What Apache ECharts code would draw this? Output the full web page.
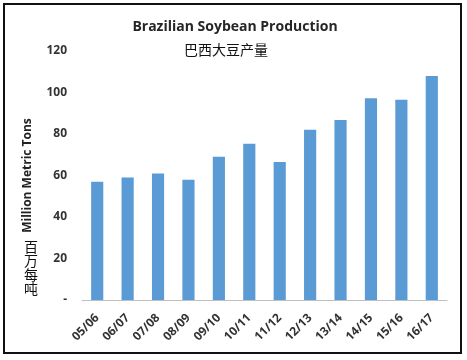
<!DOCTYPE html>
<html><head><meta charset="utf-8">
<script src="https://cdn.jsdelivr.net/npm/echarts@6/dist/echarts.min.js"></script>
<style>html,body{margin:0;padding:0;background:#fff;}#c{width:467px;height:360px;}</style>
</head><body><div id="c"></div>
<script>
var categories = ['05/06','06/07','07/08','08/09','09/10','10/11','11/12','12/13','13/14','14/15','15/16','16/17'];
var production = [57, 59, 61, 58, 69, 75.3, 66.5, 82, 86.7, 97.2, 96.5, 108];
var yTicks = [0, 20, 40, 60, 80, 100, 120];
var unitCn = ['百', '万', '每', '吨'];

var chart = echarts.init(document.getElementById('c'));
var titles = [
  {text: 'Brazilian Soybean Production', left: 230, top: 15, textAlign: 'center',
   textStyle: {fontFamily: 'Open Sans', fontWeight: 'bold', fontSize: 14, color: '#262626'}},
  {text: '巴西大豆产量', left: 221, top: 38, textAlign: 'center',
   textStyle: {fontFamily: 'Noto Sans CJK SC', fontWeight: 'normal', fontSize: 14, color: '#111'}}
];
unitCn.forEach(function (ch, i) {
  titles.push({text: ch, left: 24, top: 240 + i * 14, padding: 0,
    textStyle: {fontFamily: 'Noto Sans CJK SC', fontWeight: 'normal', fontSize: 14, color: '#111', lineHeight: 14}});
});

chart.setOption({
  animation: false,
  backgroundColor: '#fff',
  title: titles,
  graphic: [
    {type: 'rect', shape: {x: 4, y: 4, width: 457, height: 349},
     style: {fill: 'none', stroke: '#111', lineWidth: 2}, silent: true}
  ],
  grid: {left: 82, right: 20, top: 51, bottom: 60},
  xAxis: {
    type: 'category', data: categories,
    axisLine: {lineStyle: {color: '#bfbfbf', width: 1}},
    axisTick: {show: false},
    axisLabel: {rotate: 45, interval: 0, margin: 16, fontFamily: 'Open Sans', fontWeight: 'bold', fontSize: 12, color: '#333'}
  },
  yAxis: {
    type: 'value', min: 0, max: 120, interval: 20,
    name: 'Million Metric Tons', nameLocation: 'middle', nameGap: 48, nameRotate: 90,
    nameTextStyle: {fontFamily: 'Open Sans', fontWeight: 'bold', fontSize: 12, color: '#222', padding: [0, 0, 0, 0]},
    splitLine: {show: false},
    axisLine: {show: false},
    axisTick: {show: false},
    axisLabel: {margin: 15, fontFamily: 'Open Sans', fontWeight: 'bold', fontSize: 12, color: '#333',
      formatter: function (v) { return v === 0 ? '-' : String(v); }}
  },
  series: [{
    type: 'bar', data: production, barWidth: '40%',
    itemStyle: {color: '#5B9BD5'}
  }]
});
</script></body></html>
